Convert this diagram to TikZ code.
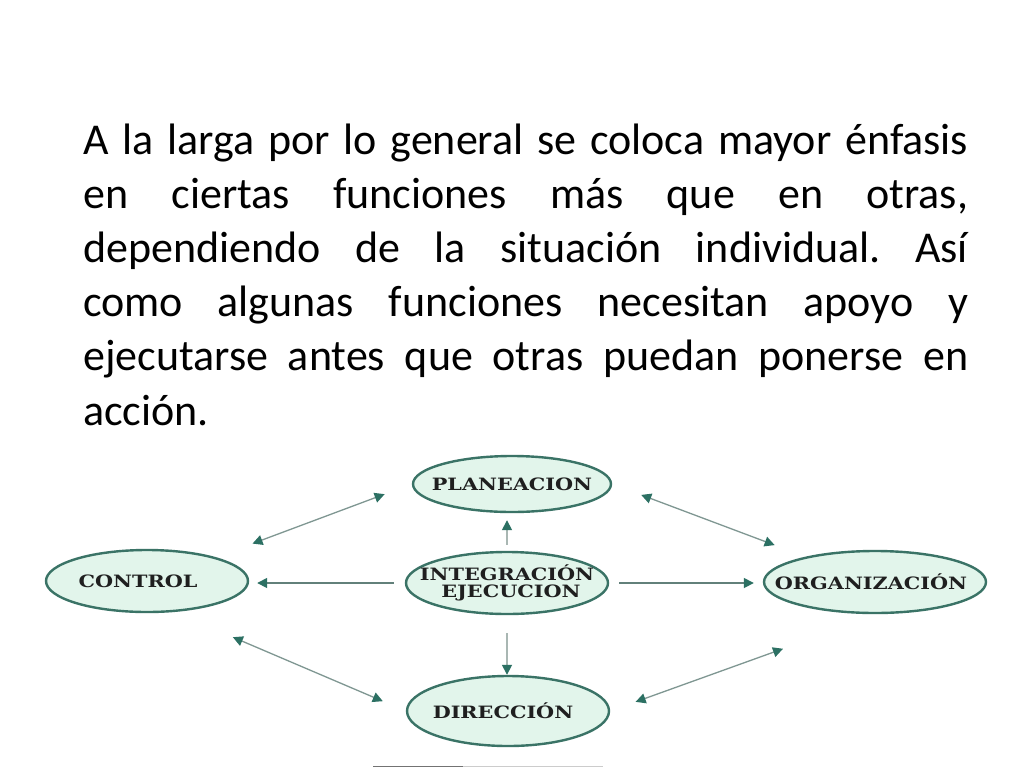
\documentclass[tikz,border=0pt]{standalone}
\usepackage{fontspec}
\setmainfont{Carlito}
\newfontfamily\boxfont[FakeStretch=1.22]{DejaVu Serif}
\usetikzlibrary{shapes.geometric,arrows.meta}
\definecolor{ellfill}{HTML}{E2F5EB}
\definecolor{elldraw}{HTML}{3A7366}
\definecolor{headcol}{HTML}{2C7063}
\definecolor{linecol}{HTML}{7F9792}
\definecolor{hlinecol}{HTML}{62807A}
\definecolor{vlinecol}{HTML}{A9B7B3}
\newcommand{\lbl}[2][0pt]{\makebox[0pt]{#2\hspace*{#1}}}
\begin{document}
\begin{tikzpicture}[x=1pt,y=-1pt,
  fn/.style={ellipse, draw=elldraw, line width=2.4pt, fill=ellfill, inner sep=0pt,
    font=\boxfont\bfseries\fontsize{17}{19.5}\selectfont, text=black!88, align=center},
  link/.style={draw=linecol, line width=1.3pt,
    >={Triangle[length=10pt,width=10pt,color=headcol]}},
  hlink/.style={link, draw=hlinecol, line width=1.6pt},
  vlink/.style={link, draw=vlinecol, line width=1.6pt},
  bodytext/.style={anchor=base west, inner sep=0pt, text width=885pt, align=justify,
    font=\fontsize{44}{54.2}\selectfont, text=black}
]
\path[use as bounding box, fill=white] (0,0) rectangle (1024,768);

\node[bodytext] (para) at (83,154) {\frenchspacing\tolerance=10000\hbadness=10000\hyphenpenalty=10000
A la larga por lo general se coloca mayor énfasis\linebreak
en ciertas funciones más que en otras,\linebreak
dependiendo de la situación individual. Así\linebreak
como algunas funciones necesitan apoyo y\linebreak
ejecutarse antes que otras puedan ponerse en\linebreak
acción.};

\node[fn, minimum width=198pt, minimum height=56pt] (plan) at (512,484) {\lbl{PLANEACION}};
\node[fn, minimum width=202pt, minimum height=62pt] (ctrl) at (147,581) {\lbl[18pt]{CONTROL}};
\node[fn, minimum width=202pt, minimum height=62pt] (integ) at (507,583) {\lbl{INTEGRACIÓN}\\[-2pt]\lbl{\hspace*{8pt}EJECUCION}};
\node[fn, minimum width=222pt, minimum height=62pt] (org) at (875,582) {\lbl[8pt]{ORGANIZACIÓN}};
\node[fn, minimum width=202pt, minimum height=70pt] (dir) at (508,711) {\lbl[10pt]{DIRECCIÓN}};

% central arrows
\draw[vlink, ->, shorten <=6pt, shorten >=7pt] (integ.north) -- (plan.south -| integ.north);
\draw[hlink, ->, shorten <=11pt, shorten >=8pt] (integ.west) -- (ctrl.east |- integ.west);
\draw[hlink, ->, shorten <=10pt, shorten >=9pt] (integ.east) -- (org.west |- integ.east);
\draw[vlink, ->, shorten <=18pt, shorten >=0pt] (integ.south) -- (dir.north -| integ.south);

% diagonal double arrows
\draw[link, <->, shorten <=39pt, shorten >=29pt] (ctrl.19) -- (plan.west);
\draw[link, <->, shorten <=31pt, shorten >=33pt] (plan.east) -- (org.160);
\draw[link, <->, shorten <=64pt, shorten >=25pt] (ctrl.311) -- (dir.west);
\draw[link, <->, shorten <=102pt, shorten >=27pt] (org.277) -- (dir.east);

% thin grey strip at the bottom edge
\draw[black!55, line width=1.5pt] (373,766.5) -- (463,766.5);
\draw[black!20, line width=1.5pt] (463,766.5) -- (603,766.5);
\end{tikzpicture}
\end{document}
